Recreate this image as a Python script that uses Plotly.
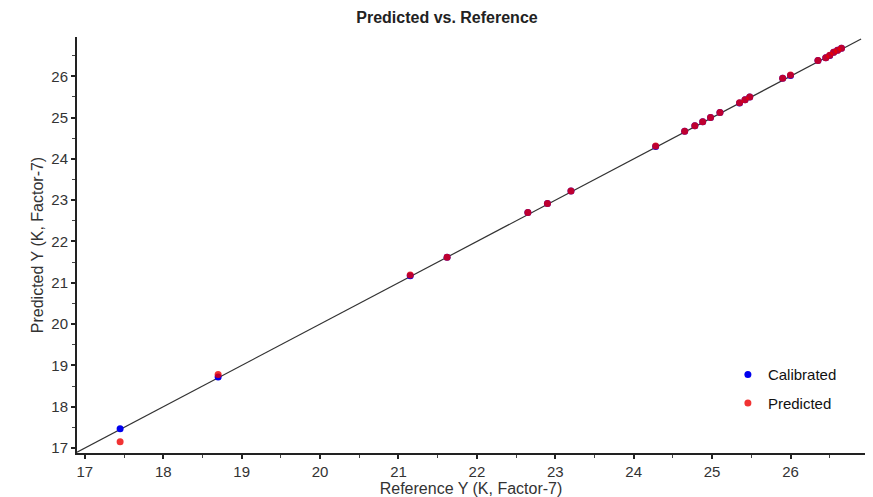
import plotly.graph_objects as go

# Reference values (x) and predictions
ref_y = [17.45, 18.70, 21.15, 21.62, 22.65, 22.90, 23.20, 24.28, 24.65, 24.78,
         24.88, 24.98, 25.10, 25.35, 25.42, 25.48, 25.90, 26.00, 26.35, 26.45,
         26.50, 26.55, 26.60, 26.65]
calibrated_y = [17.47, 18.72, 21.17, 21.62, 22.70, 22.92, 23.22, 24.30, 24.67, 24.80,
                24.90, 25.00, 25.12, 25.35, 25.43, 25.50, 25.95, 26.02, 26.38, 26.45,
                26.50, 26.58, 26.63, 26.68]
predicted_y = [17.15, 18.78, 21.19, 21.62, 22.70, 22.92, 23.22, 24.31, 24.67, 24.80,
               24.90, 25.00, 25.12, 25.36, 25.43, 25.50, 25.95, 26.03, 26.38, 26.45,
               26.51, 26.58, 26.63, 26.68]
line_ends = [16.9, 26.9]
x_ticks = [17, 18, 19, 20, 21, 22, 23, 24, 25, 26]
y_ticks = [17, 18, 19, 20, 21, 22, 23, 24, 25, 26]

font = "Liberation Sans, Arial, sans-serif"

fig = go.Figure()
fig.add_trace(go.Scatter(x=line_ends, y=line_ends, mode="lines",
                         line=dict(color="#333333", width=1.2),
                         showlegend=False, hoverinfo="skip"))
fig.add_trace(go.Scatter(x=ref_y, y=calibrated_y, mode="markers", name="Calibrated",
                         legendgroup="a",
                         marker=dict(color="#0000ee", size=7)))
fig.add_trace(go.Scatter(x=ref_y, y=predicted_y, mode="markers", name="Predicted",
                         legendgroup="b",
                         marker=dict(color="#ee0000", size=7, opacity=0.8)))

axis_common = dict(
    showline=True, linecolor="#222222", linewidth=2,
    ticks="outside", ticklen=4, tickwidth=1.5, tickcolor="#222222",
    showgrid=False, zeroline=False, automargin=False,
    tickfont=dict(family=font, size=15, color="#333333"),
    minor=dict(dtick=0.5, ticks="outside", ticklen=3, tickcolor="#444444", tickwidth=1),
)

fig.update_layout(
    width=865, height=489,
    margin=dict(l=69, r=8, t=29, b=44),
    paper_bgcolor="white", plot_bgcolor="white",
    title=dict(text="<b>Predicted vs. Reference</b>", x=0.5075, xanchor="center",
               y=0.98, yanchor="middle",
               font=dict(family=font, size=16, color="#222222")),
    xaxis=dict(range=[16.9, 26.95], tickvals=x_ticks,
               title=dict(text="Reference Y (K, Factor-7)", standoff=1,
                          font=dict(family=font, size=16, color="#333333")),
               **axis_common),
    yaxis=dict(range=[16.88, 26.95], tickvals=y_ticks,
               title=dict(text="Predicted Y (K, Factor-7)", standoff=4,
                          font=dict(family=font, size=16, color="#333333")),
               **axis_common),
    legend=dict(x=0.826, y=0.228, xanchor="left", yanchor="top",
                font=dict(family=font, size=15, color="#111111"),
                tracegroupgap=6, bgcolor="rgba(0,0,0,0)"),
    showlegend=True,
)

fig.write_html("out.html")
